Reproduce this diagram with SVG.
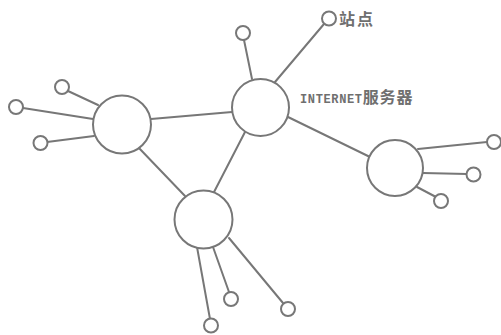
<svg xmlns="http://www.w3.org/2000/svg" width="501" height="335" viewBox="0 0 501 335">
<style>
.hub{fill:#fff;stroke:#777;stroke-width:2}
.leaf{fill:#fff;stroke:#777;stroke-width:2}
.ln{stroke:#777;stroke-width:2;fill:none;stroke-linecap:round}
.lbl{fill:#6f6f6f;font-weight:bold}
</style>
<rect width="501" height="335" fill="#fff"/>
<g id="connectors">
<line class="ln" x1="151" y1="119" x2="232" y2="112"/>
<line class="ln" x1="138" y1="147" x2="185" y2="196"/>
<line class="ln" x1="245" y1="132" x2="213" y2="194"/>
<line class="ln" x1="288" y1="117" x2="370" y2="157"/>
<line class="ln" x1="275" y1="82" x2="324" y2="24"/>
<line class="ln" x1="244" y1="40" x2="252" y2="79"/>
<line class="ln" x1="68" y1="91" x2="98" y2="105"/>
<line class="ln" x1="23" y1="108" x2="93" y2="119"/>
<line class="ln" x1="47" y1="142" x2="94" y2="136"/>
<line class="ln" x1="418" y1="149" x2="487" y2="142"/>
<line class="ln" x1="423" y1="173" x2="467" y2="174"/>
<line class="ln" x1="417" y1="187" x2="436" y2="197"/>
<line class="ln" x1="197" y1="247" x2="210" y2="319"/>
<line class="ln" x1="213" y1="247" x2="229" y2="292"/>
<line class="ln" x1="229" y1="238" x2="283" y2="303"/>
</g>
<g id="hub-left"><circle class="hub" cx="122" cy="124.5" r="29"/></g>
<g id="hub-server"><circle class="hub" cx="260.5" cy="107.5" r="28.5"/></g>
<g id="hub-right"><circle class="hub" cx="395" cy="168" r="28"/></g>
<g id="hub-bottom"><circle class="hub" cx="203.5" cy="219.5" r="29"/></g>
<g id="leaf-l1"><circle class="leaf" cx="62" cy="87" r="7"/></g>
<g id="leaf-l2"><circle class="leaf" cx="16" cy="107" r="7"/></g>
<g id="leaf-l3"><circle class="leaf" cx="40.5" cy="143" r="7"/></g>
<g id="leaf-t1"><circle class="leaf" cx="243" cy="33" r="7"/></g>
<g id="leaf-station"><circle class="leaf" cx="329" cy="18.5" r="7"/>
<text class="lbl" x="339" y="25" font-size="16" font-family="'Noto Sans CJK SC', sans-serif" textLength="34">站点</text></g>
<g id="label-server"><text class="lbl" x="300" y="103" font-size="12" font-family="'Liberation Mono', 'Noto Sans CJK SC', monospace"><tspan textLength="62">INTERNET</tspan><tspan font-size="16" font-family="'Noto Sans CJK SC', sans-serif" textLength="50">服务器</tspan></text></g>
<g id="leaf-r1"><circle class="leaf" cx="494" cy="142" r="7"/></g>
<g id="leaf-r2"><circle class="leaf" cx="473.5" cy="174.5" r="7"/></g>
<g id="leaf-r3"><circle class="leaf" cx="441" cy="201" r="7"/></g>
<g id="leaf-b1"><circle class="leaf" cx="211" cy="325.5" r="7"/></g>
<g id="leaf-b2"><circle class="leaf" cx="231" cy="299" r="7"/></g>
<g id="leaf-b3"><circle class="leaf" cx="288" cy="309" r="7"/></g>
</svg>
